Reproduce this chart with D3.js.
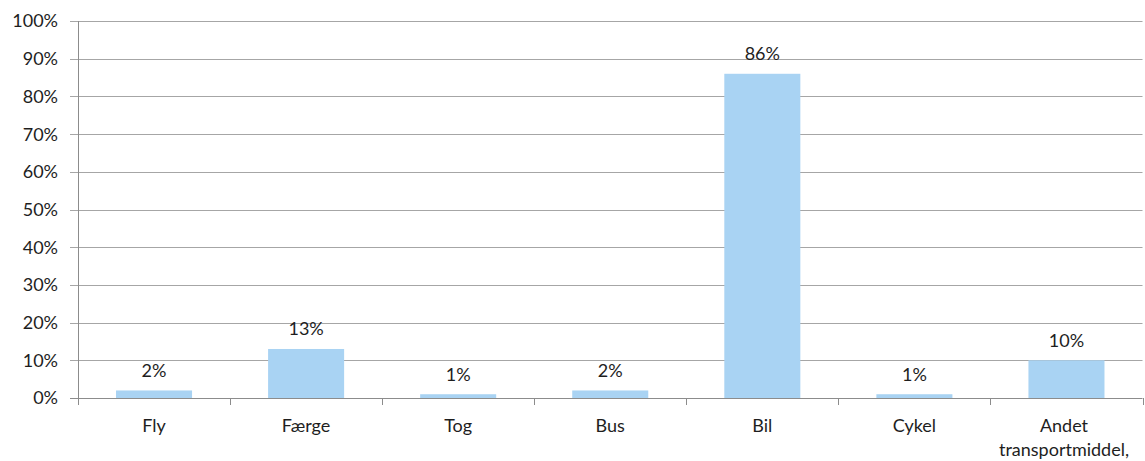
<!DOCTYPE html>
<html>
<head>
<meta charset="utf-8">
<script src="https://cdn.jsdelivr.net/npm/d3@7"></script>
<style>
  html, body { margin: 0; padding: 0; background: #fff; }
  svg { display: block; }
  text { font-family: Lato, "Open Sans", sans-serif; fill: #1e1e1e; }
</style>
</head>
<body>
<svg id="chart" width="1145" height="461"></svg>
<script>
// Transport mode shares (percent)
const categories = ["Fly", "Færge", "Tog", "Bus", "Bil", "Cykel", "Andet transportmiddel,"];
const categoryLines = [["Fly"], ["Færge"], ["Tog"], ["Bus"], ["Bil"], ["Cykel"], ["Andet", "transportmiddel,"]];
const values = [2, 13, 1, 2, 86, 1, 10];
const yTicks = [0, 10, 20, 30, 40, 50, 60, 70, 80, 90, 100];

const svg = d3.select("#chart");
const margin = { left: 78, right: 2.5, top: 21, bottom: 63 };
const W = 1145, H = 461;
const fontSize = "18px";

const x = d3.scaleBand()
  .domain(categories)
  .range([margin.left, W - margin.right])
  .paddingInner(0.5)
  .paddingOuter(0.25);

const y = d3.scaleLinear()
  .domain([0, 100])
  .range([H - margin.bottom, margin.top]);

const gridColor = "#a6a6a6";
const axisColor = "#8c8c8c";

// Horizontal gridlines with left tick marks
svg.append("g").selectAll("line")
  .data(yTicks)
  .join("line")
  .attr("x1", margin.left - 8)
  .attr("x2", W - margin.right)
  .attr("y1", d => Math.round(y(d)) + 0.5)
  .attr("y2", d => Math.round(y(d)) + 0.5)
  .attr("stroke", d => d === 0 ? axisColor : gridColor)
  .attr("stroke-width", 1);

// Y axis labels
svg.append("g").selectAll("text")
  .data(yTicks)
  .join("text")
  .attr("x", margin.left - 20)
  .attr("y", d => y(d))
  .attr("dy", "0.36em")
  .attr("text-anchor", "end")
  .style("font-size", fontSize)
  .text(d => d + "%");

// Y axis line
svg.append("line")
  .attr("x1", margin.left + 0.5).attr("x2", margin.left + 0.5)
  .attr("y1", y(100)).attr("y2", y(0))
  .attr("stroke", axisColor);

// Category separators below the baseline
const step = x.step();
const seps = d3.range(categories.length + 1).map(i => margin.left + i * step);
svg.append("g").selectAll("line")
  .data(seps)
  .join("line")
  .attr("x1", d => Math.round(d) + 0.5)
  .attr("x2", d => Math.round(d) + 0.5)
  .attr("y1", y(0))
  .attr("y2", y(0) + 7)
  .attr("stroke", axisColor);

// Bars
svg.append("g").selectAll("rect")
  .data(values)
  .join("rect")
  .attr("x", (d, i) => x(categories[i]))
  .attr("width", x.bandwidth())
  .attr("y", d => y(d))
  .attr("height", d => y(0) - y(d))
  .attr("fill", "#a9d3f3");

// Value labels
svg.append("g").selectAll("text")
  .data(values)
  .join("text")
  .attr("x", (d, i) => x(categories[i]) + x.bandwidth() / 2)
  .attr("y", d => y(d) - 20)
  .attr("dy", "0.36em")
  .attr("text-anchor", "middle")
  .style("font-size", fontSize)
  .text(d => d + "%");

// Category labels
const catG = svg.append("g");
categoryLines.forEach((lines, i) => {
  const cx = Math.min(x(categories[i]) + x.bandwidth() / 2, 1064);
  lines.forEach((ln, j) => {
    catG.append("text")
      .attr("x", cx)
      .attr("y", 426 + j * 24)
      .attr("dy", "0.36em")
      .attr("text-anchor", "middle")
      .style("font-size", fontSize)
      .text(ln);
  });
});
</script>
</body>
</html>
